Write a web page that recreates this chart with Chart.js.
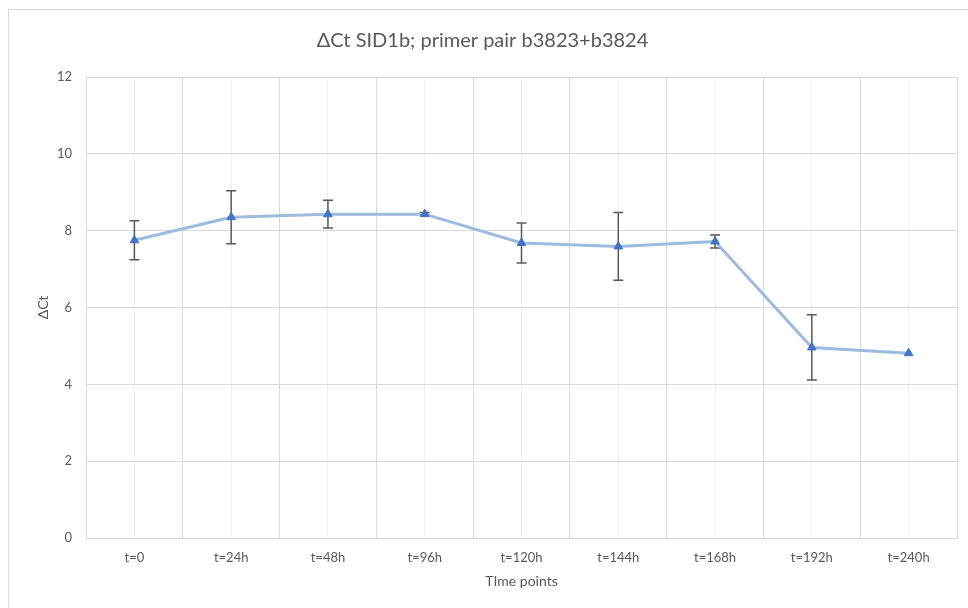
<!DOCTYPE html>
<html lang="en">
<head>
  <meta charset="UTF-8" />
  <title>ΔCt SID1b; primer pair b3823+b3824</title>
  <script src="https://cdn.jsdelivr.net/npm/chart.js"></script>
  <style>
    html, body {
      margin: 0;
      padding: 0;
      background: #fff;
      overflow: hidden;
    }
    .wrap {
      position: relative;
      width: 968px;
      height: 608px;
    }
    .frame {
      position: absolute;
      left: 8px;
      top: 9px;
      width: 970px;
      height: 610px;
      border: 1px solid #d9d9d9;
      pointer-events: none;
    }
  </style>
</head>
<body>
  <div class="wrap">
    <canvas id="chart" width="968" height="608"></canvas>
    <div class="frame"></div>
  </div>

  <script>
    const timePoints = ['t=0', 't=24h', 't=48h', 't=96h', 't=120h', 't=144h', 't=168h', 't=192h', 't=240h'];
    const deltaCt = [7.75, 8.35, 8.43, 8.43, 7.68, 7.59, 7.72, 4.96, 4.81];
    const errors = [0.51, 0.69, 0.36, 0.04, 0.52, 0.88, 0.17, 0.85, 0];
    const yTicks = [0, 2, 4, 6, 8, 10, 12];

    const textColor = '#595959';
    const fontFamily = 'Lato, "Open Sans", sans-serif';

    // error bars drawn under the line, using the chart's own scales
    const errorBars = {
      id: 'errorBars',
      beforeDatasetsDraw(chart) {
        const { ctx, scales: { x, y } } = chart;
        ctx.save();
        ctx.strokeStyle = '#595959';
        ctx.lineWidth = 1.5;
        deltaCt.forEach((v, i) => {
          const e = errors[i];
          if (!e) return;
          const px = x.getPixelForValue(i);
          const top = y.getPixelForValue(v + e);
          const bot = y.getPixelForValue(v - e);
          ctx.beginPath();
          ctx.moveTo(px, top);
          ctx.lineTo(px, bot);
          ctx.moveTo(px - 5, top);
          ctx.lineTo(px + 5, top);
          ctx.moveTo(px - 5, bot);
          ctx.lineTo(px + 5, bot);
          ctx.stroke();
        });
        ctx.restore();
      }
    };

    new Chart(document.getElementById('chart'), {
      type: 'line',
      data: {
        labels: timePoints,
        datasets: [{
          label: 'ΔCt',
          data: deltaCt,
          borderColor: '#9dbadf',
          borderWidth: 3,
          pointStyle: 'triangle',
          pointRadius: 5,
          pointBackgroundColor: '#4472c4',
          pointBorderColor: '#4472c4',
          pointBorderWidth: 1,
          tension: 0
        }]
      },
      options: {
        responsive: false,
        animation: false,
        devicePixelRatio: 1,
        layout: { padding: { left: 8, right: 11, top: 0, bottom: 0 } },
        plugins: {
          legend: { display: false },
          tooltip: { enabled: false },
          title: {
            display: true,
            text: 'ΔCt SID1b; primer pair b3823+b3824',
            color: textColor,
            font: { family: fontFamily, size: 20, weight: 'normal' },
            padding: { top: 29, bottom: 24 }
          }
        },
        scales: {
          x: {
            type: 'category',
            offset: true,
            grid: { offset: true, color: '#d9d9d9', drawTicks: false },
            border: { color: '#d9d9d9' },
            ticks: { color: textColor, font: { family: fontFamily, size: 13 }, padding: 12, maxRotation: 0 },
            title: {
              display: true,
              text: 'TIme points',
              color: textColor,
              font: { family: fontFamily, size: 14 },
              padding: { top: 4, bottom: 18 }
            },
            afterFit: s => { s.height = 70; }
          },
          x2: {
            type: 'category',
            position: 'bottom',
            offset: true,
            grid: { offset: false, color: '#efefef', drawTicks: false },
            border: { display: false },
            ticks: { display: false },
            afterFit: s => { s.height = 0; }
          },
          y: {
            min: 0,
            max: 12,
            afterBuildTicks: s => { s.ticks = yTicks.map(v => ({ value: v })); },
            grid: { color: '#d9d9d9', drawTicks: false },
            border: { color: '#d9d9d9' },
            ticks: { color: textColor, font: { family: fontFamily, size: 13 }, padding: 14 },
            title: {
              display: true,
              text: 'ΔCt',
              color: textColor,
              font: { family: fontFamily, size: 14 },
              padding: { top: 27, bottom: 0 }
            },
            afterFit: s => { s.width = 78; }
          }
        }
      },
      plugins: [errorBars]
    });
  </script>
</body>
</html>
